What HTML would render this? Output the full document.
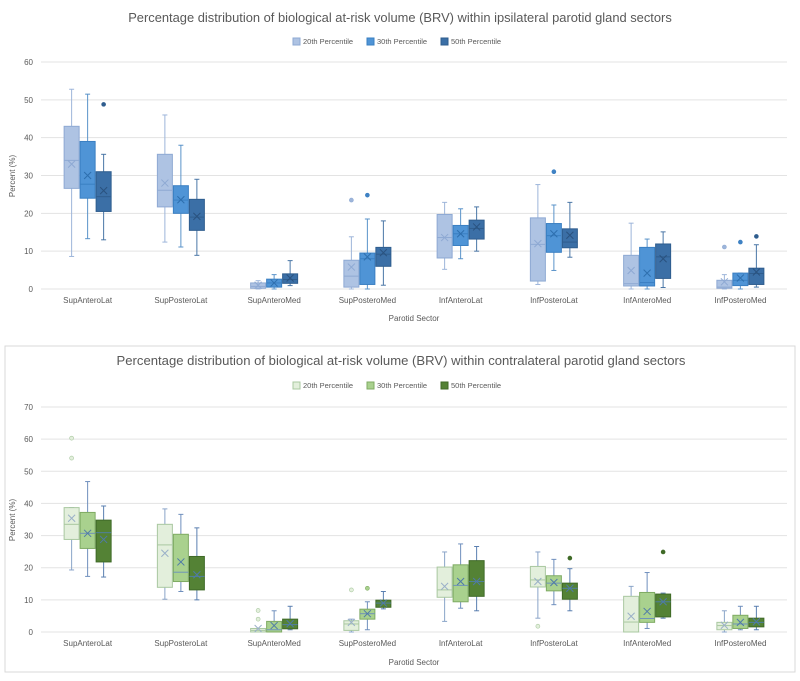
<!DOCTYPE html>
<html><head><meta charset="utf-8">
<style>
body{margin:0;background:#fff;width:800px;height:676px;overflow:hidden;font-family:"Liberation Sans",sans-serif;}
svg text{font-family:"Liberation Sans",sans-serif;fill:#595959;}
</style></head>
<body>
<svg id="chart" width="800" height="676" xmlns="http://www.w3.org/2000/svg">
<rect x="5" y="346" width="790" height="326" fill="none" stroke="#d9d9d9"/>
<text x="400" y="22" text-anchor="middle" font-size="12.9">Percentage distribution of biological at-risk volume (BRV) within ipsilateral parotid gland sectors</text>
<text x="401" y="365" text-anchor="middle" font-size="13.1">Percentage distribution of biological at-risk volume (BRV) within contralateral parotid gland sectors</text>
<text x="414" y="321" text-anchor="middle" font-size="8">Parotid Sector</text>
<text x="414" y="665" text-anchor="middle" font-size="8">Parotid Sector</text>
<text transform="translate(15,176) rotate(-90)" text-anchor="middle" font-size="8">Percent (%)</text>
<text transform="translate(15,520) rotate(-90)" text-anchor="middle" font-size="8">Percent (%)</text>
</svg>
<script>
const categories=["SupAnteroLat","SupPosteroLat","SupAnteroMed","SupPosteroMed","InfAnteroLat","InfPosteroLat","InfAnteroMed","InfPosteroMed"];
const seriesNames=["20th Percentile","30th Percentile","50th Percentile"];
// each entry: [min,q1,median,q3,max,mean]
const ipsi20=[[8.6,26.6,34,43,52.8,33],[12.4,21.7,26.1,35.6,46,28],[0,0.2,0.7,1.6,2.2,1],[0,0.5,3.4,7.6,13.8,5.8],[5.2,8.2,13.6,19.7,22.9,13.6],[1.2,2.1,11.8,18.8,27.6,12],[0,0.8,1.4,8.9,17.4,4.9],[0,0.2,0.5,2.3,3.8,1.9]];
const ipsi30=[[13.3,24,27.7,39,51.5,30],[11.1,20,23.5,27.3,38,23.6],[0,0.5,1.6,2.6,3.8,1.6],[0,1.2,8,9.5,18.5,8.5],[8,11.5,14.6,16.8,21.2,14.6],[4.9,9.7,14.1,17.3,22.2,14.6],[0,0.8,1.7,11,13.2,4.2],[0,0.9,2.3,4.2,4.2,2.9]];
const ipsi50=[[13,20.5,24.4,31,35.6,26],[8.9,15.5,19,23.7,29,19.2],[0.9,1.5,2.5,4,7.5,2.9],[1,6,9.2,11,18,9.6],[10,13.2,16,18.2,21.7,16.4],[8.4,10.9,12.4,15.9,22.9,14.2],[0.4,2.8,8.5,11.9,15.1,8],[0.5,1.2,4.1,5.5,11.7,4.5]];
const ipsiOut20=[[],[],[],[23.5],[],[],[],[11.1]];
const ipsiOut30=[[],[],[],[24.8],[],[31],[],[12.4]];
const ipsiOut50=[[48.8],[],[],[],[],[],[],[13.9]];
const contra20=[[19.3,28.8,33.5,38.7,38.7,35.4],[10.2,13.9,27.1,33.5,38.3,24.5],[0,0,0.5,1.1,1.1,1.1],[0,0.5,2.5,3.5,4,3],[3.3,10.8,13.1,20.2,24.9,14.2],[4.3,14,16.2,20.4,24.9,15.7],[0,0,3.1,11.1,14.2,4.9],[0,0.7,2,3,6.6,2.1]];
const contra30=[[17.3,26,30.7,37.2,46.8,30.7],[12.6,15.7,18.6,30.4,36.6,21.8],[0,0,0.7,3.3,6.6,2],[0.7,4,5.7,7.1,9.4,5.7],[7.4,9.4,14.5,20.9,27.4,15.7],[8.5,12.8,15.2,17.5,22.6,15.4],[1.1,3,4.2,12.3,18.5,6.4],[0.7,1.1,2.5,5.2,8,3]];
const contra50=[[17.1,21.8,30.9,34.8,39.2,28.8],[10,13.1,17.3,23.5,32.4,17.8],[0.7,1,2.3,4,8,2.6],[7.2,7.7,9,9.9,12.6,9],[6.6,11.1,15.7,22.2,26.6,15.7],[6.6,10.2,13.6,15.2,19.7,13.6],[4.3,4.7,9.4,11.8,12.1,9.4],[0.7,1.6,3,4.3,8,3.2]];
const contraOut20=[[60.3,54.1],[],[6.7,4],[13.1],[],[1.8],[],[]];
const contraOut30=[[],[],[],[13.6],[],[],[],[]];
const contraOut50=[[],[],[],[],[],[23],[24.9],[]];
const ipsiTicks=[0,10,20,30,40,50,60];
const contraTicks=[0,10,20,30,40,50,60,70];

const NS="http://www.w3.org/2000/svg";
const svg=document.getElementById('chart');
function mk(tag,attrs,parent){const e=document.createElementNS(NS,tag);for(const k in attrs)e.setAttribute(k,attrs[k]);(parent||svg).appendChild(e);return e;}

function drawChart(cfg){
  const g=mk('g',{});
  
  
  const x0=41,x1=787,bw=(x1-x0)/categories.length;
  const ymax=cfg.ticks[cfg.ticks.length-1];
  const y=v=>cfg.yBottom-(v/ymax)*(cfg.yBottom-cfg.yTop);
  const xc=i=>x0+bw*(i+0.5);
  cfg.ticks.forEach(t=>{
    const l=mk('line',{x1:x0,x2:x1,y1:y(t),y2:y(t),stroke:'#e3e3e3','stroke-width':1},g);
    
    
    const tx=mk('text',{x:33,y:y(t)+3,'text-anchor':'end','font-size':8},g);
    tx.textContent=t;
    
    
  });
  categories.forEach((c,i)=>{
    const tx=mk('text',{x:xc(i),y:cfg.yBottom+14,'text-anchor':'middle','font-size':8},g);
    tx.textContent=c;
    
    
  });
  let lx=cfg.legendX;
  seriesNames.forEach((s,k)=>{
    const r=mk('rect',{x:lx,y:cfg.legendY-6,width:7,height:7,fill:cfg.fills[k],stroke:cfg.strokes[k]},g);
    
    
    const t=mk('text',{x:lx+10,y:cfg.legendY,'font-size':7.5},g);
    t.textContent=s;
    
    
    lx+=74;
  });
  cfg.series.forEach((ser,k)=>{
    ser.forEach((d,i)=>{
      const cx=xc(i)+(k-1)*16,w=15;
      const [mn,q1,md,q3,mx,mean]=d;
      const bg=mk('g',{},g);
      
      
      const sc=cfg.wstroke[k];
      mk('line',{x1:cx,x2:cx,y1:y(mx),y2:y(q3),stroke:sc},bg);
      mk('line',{x1:cx,x2:cx,y1:y(q1),y2:y(mn),stroke:sc},bg);
      mk('line',{x1:cx-2.5,x2:cx+2.5,y1:y(mx),y2:y(mx),stroke:sc},bg);
      mk('line',{x1:cx-2.5,x2:cx+2.5,y1:y(mn),y2:y(mn),stroke:sc},bg);
      mk('rect',{x:cx-w/2,y:y(q3),width:w,height:Math.max(0.5,y(q1)-y(q3)),fill:cfg.fills[k],stroke:cfg.strokes[k]},bg);
      mk('line',{x1:cx-w/2,x2:cx+w/2,y1:y(md),y2:y(md),stroke:cfg.medStroke[k]},bg);
      const my=y(mean);
      mk('path',{d:`M${cx-3.5},${my-3.5}L${cx+3.5},${my+3.5}M${cx+3.5},${my-3.5}L${cx-3.5},${my+3.5}`,stroke:cfg.meanStroke[k],'stroke-width':1,fill:'none'},bg);
      cfg.outs[k][i].forEach(o=>{
        const c=mk('circle',{cx:cx,cy:y(o),r:2,fill:cfg.outFill[k],stroke:cfg.strokes[k],'stroke-width':0.6},bg);
        
        
      });
    });
  });
}
drawChart({name:'ipsilateral-chart',yTop:62,yBottom:289,ticks:ipsiTicks,legendX:293,legendY:44,
  series:[ipsi20,ipsi30,ipsi50],outs:[ipsiOut20,ipsiOut30,ipsiOut50],
  fills:['#aec3e3','#4f94d6','#3b6fa6'],strokes:['#8ea9d3','#3a7fc2','#2f5d8e'],
  wstroke:['#9db5da','#5a93c9','#4a76a6'],medStroke:['#8ea9d3','#3a7fc2','#2f5d8e'],
  meanStroke:['#8ea9d3','#2e6fae','#2a527f'],outFill:['#9db5da','#3f82c4','#2f5d8e']});
drawChart({name:'contralateral-chart',yTop:407,yBottom:632,ticks:contraTicks,legendX:293,legendY:388,
  series:[contra20,contra30,contra50],outs:[contraOut20,contraOut30,contraOut50],
  fills:['#e3efdc','#a9d18e','#548235'],strokes:['#a9c8a0','#7fab63','#3f6a27'],
  wstroke:['#8aa4c8','#6f8fbd','#5a7fb0'],medStroke:['#a9c8a0','#6f94b8','#4f7fa0'],
  meanStroke:['#9ab0c8','#4f7aa8','#4f7aa8'],outFill:['#e3efdc','#a9d18e','#3f6a27']});
</script>
</body></html>
